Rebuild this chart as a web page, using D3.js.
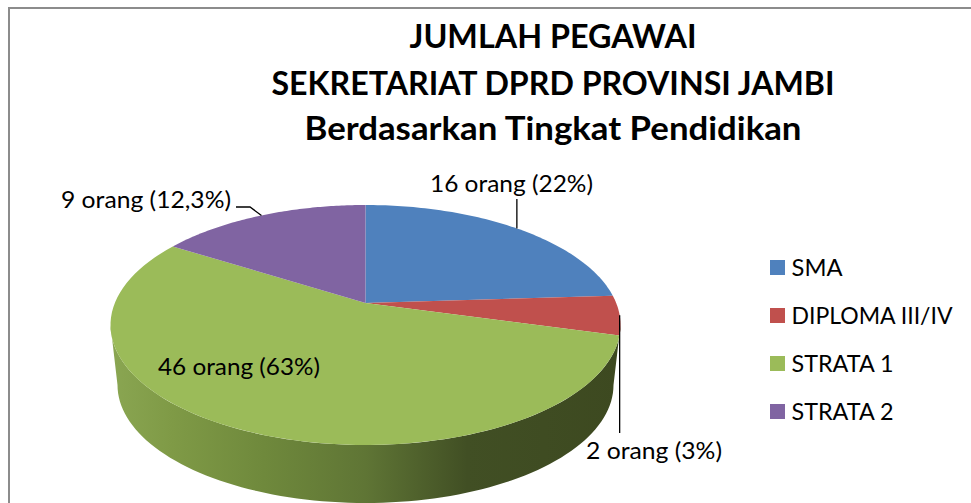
<!DOCTYPE html>
<html>
<head>
<meta charset="utf-8">
<script src="https://cdn.jsdelivr.net/npm/d3@7"></script>
<style>
  html, body { margin: 0; padding: 0; background: #fff; overflow: hidden; }
  text { font-family: Lato, "Open Sans", sans-serif; fill: #000; }
</style>
</head>
<body>
<script>
var titleLines = ["JUMLAH PEGAWAI", "SEKRETARIAT DPRD PROVINSI JAMBI", "Berdasarkan Tingkat Pendidikan"];
var categories = ["SMA", "DIPLOMA III/IV", "STRATA 1", "STRATA 2"];
// slice sizes as drawn in the picture (the printed labels don't agree with them)
var sliceShares = [24, 5.3, 54.7, 16];
var sliceLabels = ["16 orang (22%)", "2 orang (3%)", "46 orang (63%)", "9 orang (12,3%)"];
var colors = ["#4f81bd", "#c0504d", "#9bbb59", "#8064a2"];

var width = 971, height = 503;

var svg = d3.select("body").append("svg")
    .attr("width", width)
    .attr("height", height)
    .style("display", "block");

// frame around the chart (right and bottom sides are cropped off)
svg.append("path")
    .attr("d", "M9,503V8H971")
    .attr("fill", "none")
    .attr("stroke", "#8c8c8c")
    .attr("stroke-width", 2);

// Lato runs a bit off Calibri's widths, so each text is fitted to its measured width
var titleWidths = [287, 563, 497];
var titleBaselines = [48, 94.5, 139.5];
svg.selectAll(".title")
    .data(titleLines)
    .enter().append("text")
    .attr("class", "title")
    .attr("x", 553)
    .attr("y", (d, i) => titleBaselines[i])
    .attr("text-anchor", "middle")
    .attr("font-size", 32)
    .attr("font-weight", "bold")
    .attr("textLength", (d, i) => titleWidths[i])
    .attr("lengthAdjust", "spacingAndGlyphs")
    .text(d => d);

// Top face is a circle seen in perspective
var face = {cx: 365.5, cy: 325, rx: 255, ry: 120, apex: 22 / 120};
var base = {cx: 365.5, cy: 385, rx: 248, ry: 118};

function project(angle) {
    var X = Math.sin(angle), Y = Math.cos(angle), k = face.apex;
    var w = 1 + k * Y;
    return [
        face.cx + face.rx * X * Math.sqrt(1 - k * k) / w,
        face.cy - face.ry * (Y + k) / w
    ];
}
var apexPoint = [face.cx, face.cy - face.ry * face.apex];

var color = d3.scaleOrdinal().domain(categories).range(colors);
var pie = d3.pie().sort(null).value(d => d);
var slices = pie(sliceShares);
var line = d3.line();

// side wall of the pie
var defs = svg.append("defs");
var wallGrad = defs.append("linearGradient")
    .attr("id", "wall")
    .attr("gradientUnits", "userSpaceOnUse")
    .attr("x1", 111).attr("x2", 620).attr("y1", 0).attr("y2", 0);
[[0, "#8aa652"], [0.12, "#7f9a46"], [0.3, "#6f893c"], [0.5, "#5f7535"], [0.7, "#414f24"], [1, "#3d4920"]]
    .forEach(function(s) {
        wallGrad.append("stop").attr("offset", s[0]).attr("stop-color", s[1]);
    });

var faceRim = d3.range(0, 181, 2).map(t => {
    var a = t * Math.PI / 180;
    return [face.cx + face.rx * Math.cos(a), face.cy + face.ry * Math.sin(a)];
});
var baseRim = d3.range(180, -1, -2).map(t => {
    var a = t * Math.PI / 180;
    return [base.cx + base.rx * Math.cos(a), base.cy + base.ry * Math.sin(a)];
});
svg.append("path")
    .attr("d", line(faceRim.concat(baseRim)) + "Z")
    .attr("fill", "url(#wall)");

// top face slices
svg.selectAll(".slice")
    .data(slices)
    .enter().append("path")
    .attr("class", "slice")
    .attr("fill", (d, i) => color(categories[i]))
    .attr("d", function(d) {
        var n = 80;
        var rim = d3.range(n + 1).map(i => project(d.startAngle + (d.endAngle - d.startAngle) * i / n));
        return line([apexPoint].concat(rim)) + "Z";
    });

// leader lines start at the middle of each slice's rim
function rimMid(i) {
    return project((slices[i].startAngle + slices[i].endAngle) / 2);
}
var leaders = [
    [rimMid(0), [rimMid(0)[0], 199]],
    [rimMid(1), [rimMid(1)[0], 433]],
    [rimMid(3), [250, 207], [236, 207]]
];
svg.selectAll(".leader")
    .data(leaders)
    .enter().append("path")
    .attr("class", "leader")
    .attr("d", d => line(d))
    .attr("fill", "none")
    .attr("stroke", "#000")
    .attr("stroke-width", 1.3);

var labelPos = [[511.5, 192], [654, 459], [239, 375], [146, 208]];
var labelWidths = [163, 136, 162, 170];
svg.selectAll(".label")
    .data(sliceLabels)
    .enter().append("text")
    .attr("class", "label")
    .attr("x", (d, i) => labelPos[i][0])
    .attr("y", (d, i) => labelPos[i][1])
    .attr("text-anchor", "middle")
    .attr("font-size", 24)
    .attr("textLength", (d, i) => labelWidths[i])
    .attr("lengthAdjust", "spacingAndGlyphs")
    .text(d => d);

// legend
var legendWidths = [51, 161, 102, 102];
var legendY = d3.scalePoint().domain(categories).range([267.5, 411.5]);
var legend = svg.selectAll(".legend")
    .data(categories)
    .enter().append("g")
    .attr("class", "legend")
    .attr("transform", d => "translate(770," + legendY(d) + ")");
legend.append("rect")
    .attr("y", -7.5)
    .attr("width", 15)
    .attr("height", 15)
    .attr("fill", d => color(d));
legend.append("text")
    .attr("x", 21.5)
    .attr("y", 8)
    .attr("font-size", 24)
    .attr("textLength", (d, i) => legendWidths[i])
    .attr("lengthAdjust", "spacingAndGlyphs")
    .text(d => d);
</script>
</body>
</html>
